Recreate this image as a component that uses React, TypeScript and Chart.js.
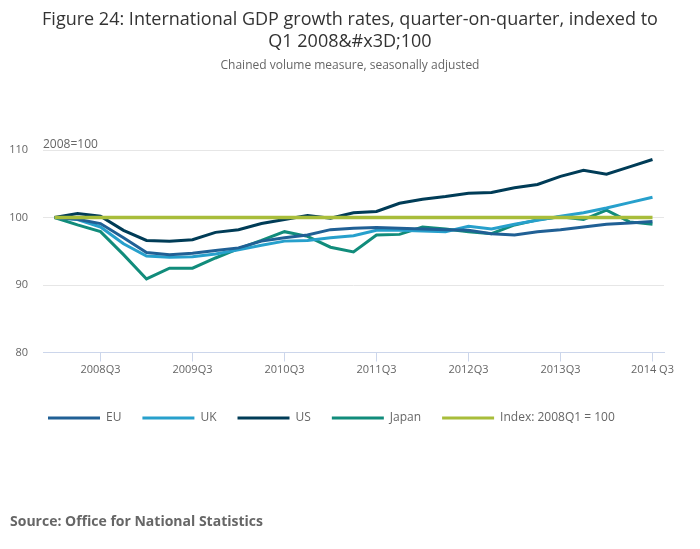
import { useEffect, useRef } from "react";
import { Chart, registerables } from "chart.js";

Chart.register(...registerables);

const quarters = [
  "2008Q1", "2008Q2", "2008Q3", "2008Q4",
  "2009Q1", "2009Q2", "2009Q3", "2009Q4",
  "2010Q1", "2010Q2", "2010Q3", "2010Q4",
  "2011Q1", "2011Q2", "2011Q3", "2011Q4",
  "2012Q1", "2012Q2", "2012Q3", "2012Q4",
  "2013Q1", "2013Q2", "2013Q3", "2013Q4",
  "2014Q1", "2014Q2", "2014 Q3",
];

const euValues = [
  100, 99.75, 99.1, 97.0,
  94.8, 94.5, 94.7, 95.1,
  95.5, 96.5, 97.0, 97.4,
  98.2, 98.4, 98.5, 98.4,
  98.3, 98.2, 98.1, 97.6,
  97.4, 97.9, 98.2, 98.6,
  99.0, 99.2, 99.4,
];

const ukValues = [
  100, 99.7, 98.6, 96.1,
  94.3, 94.1, 94.2, 94.6,
  95.2, 95.9, 96.5, 96.6,
  97.0, 97.3, 98.1, 98.1,
  98.0, 97.9, 98.7, 98.3,
  99.0, 99.6, 100.2, 100.7,
  101.4, 102.2, 103.0,
];

const usValues = [
  100, 100.6, 100.2, 98.1,
  96.6, 96.5, 96.7, 97.8,
  98.2, 99.1, 99.7, 100.3,
  99.9, 100.7, 100.9, 102.1,
  102.7, 103.1, 103.6, 103.7,
  104.4, 104.9, 106.1, 107.0,
  106.4, 107.5, 108.6,
];

const japanValues = [
  100, 98.9, 97.9, 94.5,
  90.9, 92.5, 92.5, 94.0,
  95.4, 96.6, 97.9, 97.2,
  95.6, 94.9, 97.4, 97.5,
  98.6, 98.3, 97.9, 97.6,
  98.9, 99.65, 100.1, 99.7,
  101.1, 99.35, 99.0,
];

const indexValues = quarters.map(() => 100);

const seriesNames = ["EU", "UK", "US", "Japan", "Index: 2008Q1 = 100"];
const seriesColors = ["#206095", "#27a0cc", "#003c57", "#118c7b", "#a8bd3a"];

const titleLines = [
  "Figure 24: International GDP growth rates, quarter-on-quarter, indexed to",
  "Q1 2008&#x3D;100",
];
const subtitleText = "Chained volume measure, seasonally adjusted";
const yAxisTitle = "2008=100";
const sourceText = "Source: Office for National Statistics";

const FONT = '"Open Sans", "Noto Sans", sans-serif';

const LEGEND_SHIFT = 19;

const helperPlugin = {
  id: "helperPlugin",
  afterLayout(chart: any) {
    if (chart.legend) {
      chart.legend.left += LEGEND_SHIFT;
      chart.legend.right += LEGEND_SHIFT;
    }
  },
  afterDraw(chart: any) {
    const { ctx, chartArea } = chart;
    ctx.save();
    ctx.font = `12px ${FONT}`;
    ctx.fillStyle = "#666666";
    ctx.textAlign = "left";
    ctx.textBaseline = "middle";
    ctx.fillText(yAxisTitle, chartArea.left, chartArea.top - 5);
    ctx.restore();
  },
};

export default function App() {
  const ref = useRef<HTMLCanvasElement>(null);

  useEffect(() => {
    const allValues = [euValues, ukValues, usValues, japanValues, indexValues];
    const chart = new Chart(ref.current as HTMLCanvasElement, {
      type: "line",
      data: {
        labels: quarters,
        datasets: allValues.map((vals, i) => ({
          label: seriesNames[i],
          data: vals,
          borderColor: seriesColors[i],
          backgroundColor: seriesColors[i],
          borderWidth: i === 4 ? 3.5 : 3,
          pointRadius: 0,
          pointHoverRadius: 0,
          tension: 0,
          fill: false,
          order: i === 4 ? -1 : i,
        })),
      },
      options: {
        animation: false,
        responsive: false,
        layout: { padding: { top: 142, left: 0, right: 28, bottom: 107 } },
        scales: {
          x: {
            type: "category",
            offset: true,
            afterBuildTicks: (scale: any) => {
              scale.ticks = scale.ticks.filter((t: any) => t.value % 4 === 2);
            },
            afterFit: (scale: any) => {
              scale.height = 38.5;
            },
            grid: {
              display: true,
              drawOnChartArea: false,
              drawTicks: true,
              tickLength: 9,
              color: "#ccd6eb",
              offset: false,
            },
            border: { display: true, color: "#ccd6eb", width: 1 },
            ticks: {
              autoSkip: false,
              maxRotation: 0,
              padding: 2,
              color: "#666666",
              font: { family: FONT, size: 11 },
            },
          },
          y: {
            min: 80,
            max: 110,
            afterFit: (scale: any) => {
              scale.width = 35;
            },
            grid: { color: "#e6e6e6", drawTicks: false },
            border: { display: false },
            ticks: {
              stepSize: 10,
              padding: 15,
              color: "#666666",
              font: { family: FONT, size: 11 },
            },
          },
        },
        plugins: {
          legend: {
            position: "bottom",
            align: "start",
            labels: {
              boxWidth: 52,
              boxHeight: 3,
              padding: 21,
              color: "#666666",
              font: { family: FONT, size: 12 },
              sort: (a: any, b: any) => a.datasetIndex - b.datasetIndex,
              generateLabels: (c: any) =>
                Chart.defaults.plugins.legend.labels
                  .generateLabels(c)
                  .map((l: any) => ({ ...l, lineWidth: 0 })),
            },
          },
          title: { display: false },
          tooltip: { enabled: false },
        },
      },
      plugins: [helperPlugin],
    } as any);
    return () => chart.destroy();
  }, []);

  return (
    <div
      style={{
        position: "relative",
        width: 684,
        height: 533,
        fontFamily: FONT,
      }}
    >
      <canvas
        ref={ref}
        width={684}
        height={533}
        style={{ position: "absolute", top: 0, left: 0, display: "block" }}
      />
      <div
        style={{
          position: "absolute",
          top: -1,
          left: 0,
          width: 684,
          textAlign: "center",
          fontSize: 18,
          lineHeight: "22px",
          color: "#333333",
        }}
      >
        {titleLines[0]}
        <br />
        {titleLines[1]}
      </div>
      <div
        style={{
          position: "absolute",
          top: 49,
          left: 0,
          width: 684,
          textAlign: "center",
          fontSize: 12,
          lineHeight: "16px",
          color: "#666666",
        }}
      >
        {subtitleText}
      </div>
      <div
        style={{
          position: "absolute",
          top: 503,
          left: 2,
          fontSize: 14,
          fontWeight: "bold",
          lineHeight: "20px",
          color: "#666666",
        }}
      >
        {sourceText}
      </div>
    </div>
  );
}
